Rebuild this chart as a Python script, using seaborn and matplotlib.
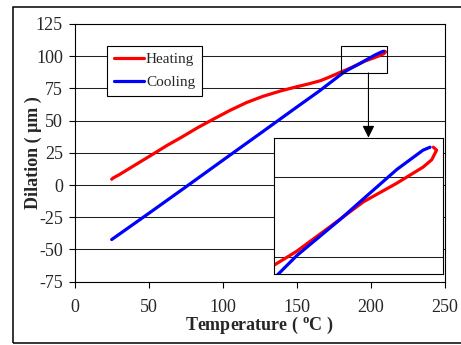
import numpy as np
import pandas as pd
import matplotlib
matplotlib.use("Agg")
import matplotlib.pyplot as plt
from matplotlib.patches import Rectangle
import seaborn as sns

# heating run (temperature in C, dilation in um)
heat_T = [25, 26, 30, 35, 40, 46, 53.6, 62, 72, 83, 93.6, 105, 116, 127, 139, 150, 158, 166,
          172, 176, 180.1, 184.1, 190.2, 196.4, 202.5, 207.4, 209.0, 209.9, 209.3]
heat_D = [4.5, 5.5, 8, 11.5, 15, 19.2, 24.5, 30.5, 37, 44.5, 51.1, 58, 64, 68.8, 73, 76.3,
          78.5, 81, 83.8, 85.8, 87.9, 89.7, 93.0, 96.4, 98.9, 101.1, 102.1, 103.4, 103.8]

# cooling run
cool_T = [208.7, 207.4, 202.6, 196.4, 192.1, 187.2, 184.1, 180.7, 165, 150, 125, 100, 75, 50,
          25]
cool_D = [103.8, 103.4, 100.8, 96.8, 94.0, 91.0, 89.1, 86.6, 72.8, 60.5, 39.8, 19.2, -1.5, -22,
          -42.3]

x_ticks = [0, 50, 100, 150, 200, 250]
y_ticks = [-75, -50, -25, 0, 25, 50, 75, 100, 125]

heat = pd.DataFrame({"T": heat_T, "D": heat_D})
cool = pd.DataFrame({"T": cool_T, "D": cool_D})

sns.set_theme(style="ticks")
plt.rcParams["font.family"] = ["Liberation Serif", "DejaVu Serif"]
plt.rcParams["mathtext.fontset"] = "custom"
plt.rcParams["mathtext.rm"] = "Liberation Serif"
plt.rcParams["mathtext.bf"] = "Liberation Serif:bold"
plt.rcParams["axes.unicode_minus"] = False

fig = plt.figure(figsize=(4.61, 3.45), dpi=100)
ax = fig.add_axes([0.162, 0.1835, 0.803, 0.747])


def draw(a, lw):
    sns.lineplot(data=heat, x="T", y="D", sort=False, estimator=None, color="#ff0000",
                 lw=lw, ax=a, label="Heating")
    sns.lineplot(data=cool, x="T", y="D", sort=False, estimator=None, color="#0000ff",
                 lw=lw, ax=a, label="Cooling")


draw(ax, 2.3)
ax.set_xlim(0, 250)
ax.set_ylim(-75, 125)
ax.set_xticks(x_ticks)
ax.set_yticks(y_ticks)
ax.yaxis.grid(True, color="#202020", lw=0.75)
ax.set_axisbelow(True)
for s in ax.spines.values():
    s.set_color("black")
    s.set_linewidth(0.8)
ax.tick_params(direction="out", length=4.5, width=0.8, labelsize=13, color="black")
ax.tick_params(axis="x", pad=8)
ax.tick_params(axis="y", pad=4)

ax.set_xlabel(r"Temperature ( $^{\mathbf{o}}$C )", fontsize=13, fontweight="bold")
ax.set_ylabel("Dilation ( μm )", fontsize=13, fontweight="bold")
ax.xaxis.set_label_coords(0.5, -0.128)
ax.yaxis.set_label_coords(-0.088, 0.5)

leg = ax.legend(loc="upper left", bbox_to_anchor=(0.232, 0.867), bbox_transform=fig.transFigure,
                borderaxespad=0, fancybox=False, framealpha=1, edgecolor="black", fontsize=11,
                handlelength=2.0, handletextpad=0.1, labelspacing=0.6, borderpad=0.45)
leg.get_frame().set_linewidth(0.8)

# zoom box and arrow
ax.add_patch(Rectangle((180, 87), 31, 21, fill=False, ec="black", lw=0.8, zorder=5))
ax.annotate("", xy=(198.4, 0.601), xycoords=("data", "figure fraction"),
            xytext=(198.4, 87), textcoords="data",
            arrowprops=dict(arrowstyle="-|>", color="black", lw=0.8, mutation_scale=18,
                            shrinkA=0, shrinkB=0), annotation_clip=False)

# inset
axi = fig.add_axes([0.595, 0.205, 0.365, 0.394])
draw(axi, 2.3)
axi.set_xlim(180, 211)
axi.set_ylim(86.6, 105)
axi.set_yticks([89, 99.7])
axi.set_xticks([])
axi.set_yticklabels([])
axi.tick_params(length=0)
axi.yaxis.grid(True, color="#202020", lw=0.75)
axi.set_axisbelow(True)
axi.set_xlabel("")
axi.set_ylabel("")
axi.get_legend().remove()
axi.set_facecolor("white")
for s in axi.spines.values():
    s.set_color("black")
    s.set_linewidth(0.8)

# outer chart border
fig.patches.append(Rectangle((13 / 461, 2 / 345), 1.0, 336 / 345, transform=fig.transFigure,
                             fill=False, ec="black", lw=1.1))

fig.savefig("out.png", dpi=100)
